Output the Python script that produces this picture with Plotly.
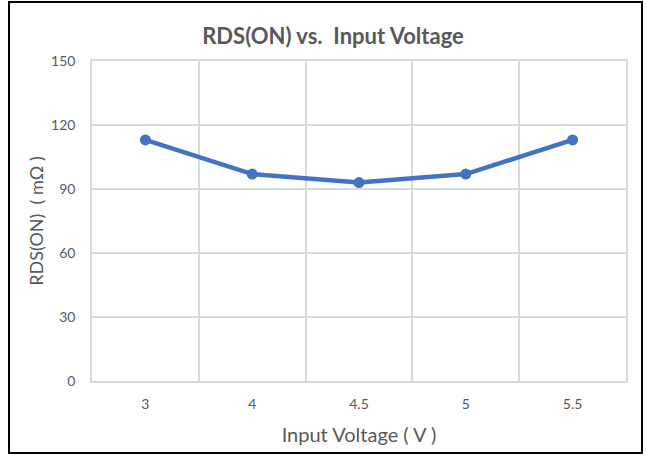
import plotly.graph_objects as go

voltages = ["3", "4", "4.5", "5", "5.5"]
rds_on = [113, 97, 93, 97, 113]
y_ticks = [0, 30, 60, 90, 120, 150]

title_text = "RDS(ON) vs.\u00a0 Input Voltage"
x_title = "Input Voltage ( V )"
y_title = "RDS(ON)\u00a0 ( mΩ )"

FONT = "Lato"
GRAY = "#595959"
GRID = "#D9D9D9"
BLUE = "#4472C4"

fig = go.Figure()
fig.add_trace(go.Scatter(
    x=voltages, y=rds_on, mode="lines+markers",
    line=dict(color=BLUE, width=4.5),
    marker=dict(color=BLUE, size=11),
    showlegend=False, hoverinfo="x+y",
))

W, H = 647, 456
L, R, T, B = 92, 21, 61, 75
pw, ph = W - L - R, H - T - B

def px_to_paper_x(px):
    return (px - L) / pw

def px_to_paper_y(py):
    return (H - B - py) / ph

fig.update_layout(
    width=W, height=H,
    autosize=False,
    margin=dict(l=L, r=R, t=T, b=B, autoexpand=False),
    paper_bgcolor="white", plot_bgcolor="white",
    font=dict(family=FONT, color=GRAY),
    title=dict(text="<b>" + title_text + "</b>", x=333 / W, xanchor="center",
               y=1 - 36 / H, yanchor="middle",
               font=dict(family=FONT, size=22, color=GRAY)),
    xaxis=dict(
        type="category", tickson="boundaries",
        range=[-0.5, len(voltages) - 0.5],
        showgrid=True, gridcolor=GRID, gridwidth=1.5,
        showline=True, linecolor=GRID, linewidth=1.5, mirror=True,
        ticks="", tickfont=dict(size=14, color=GRAY),
        ticklabelstandoff=9, automargin=False,
        title=dict(text=x_title, font=dict(size=20, color=GRAY), standoff=17),
        zeroline=False,
    ),
    yaxis=dict(
        range=[0, 150], tickvals=y_ticks,
        showgrid=True, gridcolor=GRID, gridwidth=1.5,
        showline=True, linecolor=GRID, linewidth=1.5, mirror=True,
        ticks="", tickfont=dict(size=14, color=GRAY),
        ticklabelstandoff=12, automargin=False,
        title=dict(text=y_title, font=dict(size=18, color=GRAY), standoff=3),
        zeroline=False,
    ),
    shapes=[dict(
        type="rect", xref="paper", yref="paper",
        x0=px_to_paper_x(9), x1=px_to_paper_x(642),
        y0=px_to_paper_y(453), y1=px_to_paper_y(2),
        line=dict(color="black", width=2), fillcolor="rgba(0,0,0,0)",
        layer="below",
    )],
)

fig.write_html("out.html", config={"displayModeBar": False},
               post_script="document.body.style.margin='0px';")
